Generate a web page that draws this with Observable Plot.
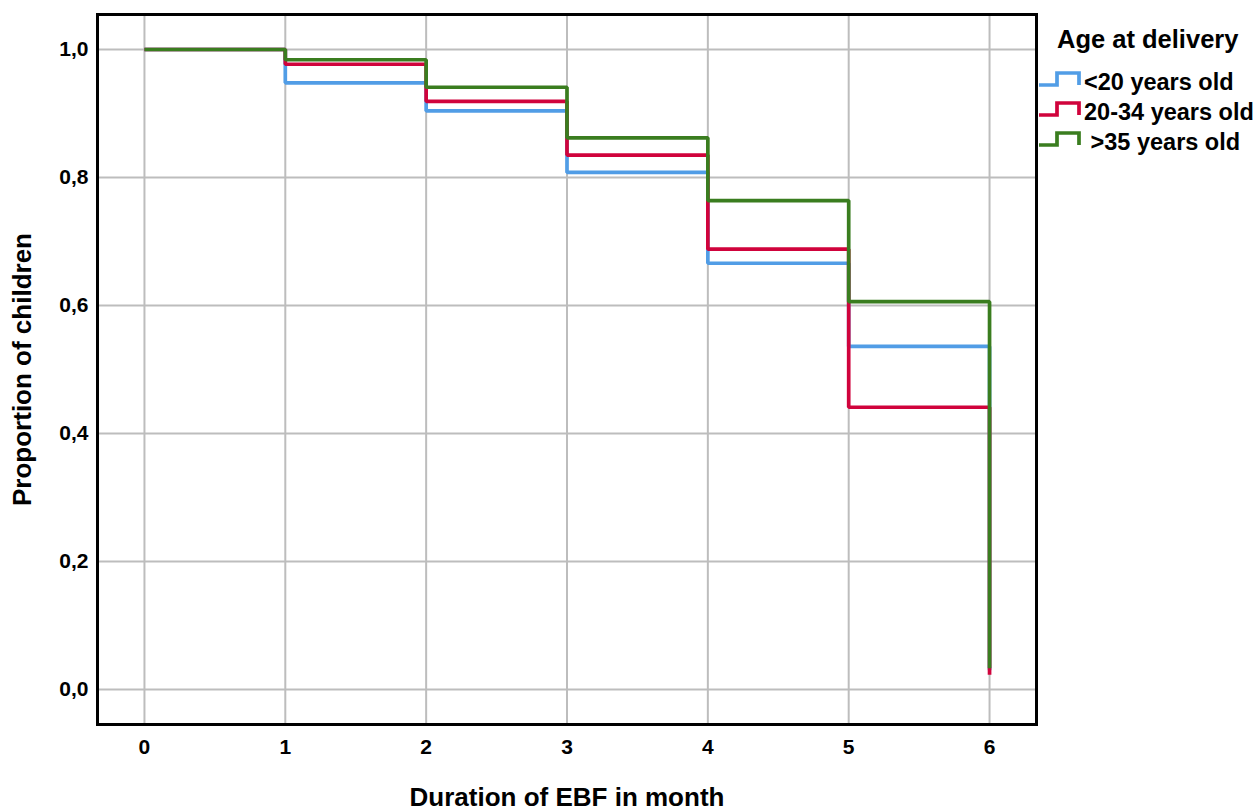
<!DOCTYPE html>
<html>
<head>
<meta charset="utf-8">
<script src="https://cdn.jsdelivr.net/npm/d3@7"></script>
<script src="https://cdn.jsdelivr.net/npm/@observablehq/plot@0.6"></script>
<style>
  html, body { margin: 0; padding: 0; background: #fff; }
  #wrap { position: relative; width: 1259px; height: 810px; font-family: "Liberation Sans", Arial, sans-serif; }
  #legend { position: absolute; left: 0; top: 0; pointer-events: none; }
</style>
</head>
<body>
<div id="wrap"></div>
<script>
// ---- data ----
const months = [0, 1, 2, 3, 4, 5, 6];
const groups = ["<20 years old", "20-34 years old", ">35 years old"];
const under20 = [1.0, 0.948, 0.904, 0.808, 0.666, 0.536, 0.03];
const age20to34 = [1.0, 0.977, 0.919, 0.835, 0.688, 0.441, 0.023];
const over35 = [1.0, 0.984, 0.941, 0.862, 0.764, 0.606, 0.033];
const colors = ["#519de6", "#d0033c", "#3a7d1f"];
const xTicks = [0, 1, 2, 3, 4, 5, 6];
const yTicks = [0, 0.2, 0.4, 0.6, 0.8, 1.0];
const legendTitle = "Age at delivery";
const legendLabels = ["<20 years old", "20-34 years old", " >35 years old"];

const seriesValues = [under20, age20to34, over35];
const rows = [];
groups.forEach((g, gi) => months.forEach((m, i) => rows.push({group: g, month: m, p: seriesValues[gi][i]})));

const font = '"Liberation Sans", Arial, sans-serif';
const W = 1259, H = 810;

const chart = Plot.plot({
  width: W, height: H,
  marginLeft: 97, marginRight: 223, marginTop: 14, marginBottom: 86,
  style: {fontFamily: font, background: "#fff", overflow: "visible"},
  x: {domain: [-1/3, 19/3], ticks: xTicks, label: null},
  y: {domain: [-0.0547, 1.0547], ticks: yTicks, label: null},
  color: {domain: groups, range: colors},
  marks: [
    Plot.gridX(xTicks, {stroke: "#bdbdbd", strokeOpacity: 1, strokeWidth: 2}),
    Plot.gridY(yTicks, {stroke: "#bdbdbd", strokeOpacity: 1, strokeWidth: 2}),
    Plot.axisX(xTicks, {tickSize: 0, tickPadding: 15, fontSize: 21, fontWeight: "bold", fill: "#000", label: null,
      tickFormat: d => String(d)}),
    Plot.axisY(yTicks, {tickSize: 0, tickPadding: 9, fontSize: 21, fontWeight: "bold", fill: "#000", label: null,
      tickFormat: d => d.toFixed(1).replace(".", ",")}),
    Plot.line(rows, {x: "month", y: "p", z: "group", stroke: "group", curve: "step-after", strokeWidth: 3.7, strokeLinejoin: "miter", strokeLinecap: "butt"}),
    Plot.frame({stroke: "#000", strokeWidth: 3}),
    Plot.text(["Duration of EBF in month"], {frameAnchor: "bottom", dy: 81, fontSize: 26, fontWeight: "bold", fill: "#000", textAnchor: "middle"}),
    Plot.text(["Proportion of children"], {frameAnchor: "left", dx: -75, rotate: -90, fontSize: 26, fontWeight: "bold", fill: "#000", textAnchor: "middle"})
  ]
});
document.getElementById("wrap").appendChild(chart);

// ---- legend (outside the plot frame, top right) ----
const ns = "http://www.w3.org/2000/svg";
const lg = document.createElementNS(ns, "svg");
lg.setAttribute("id", "legend");
lg.setAttribute("width", W);
lg.setAttribute("height", H);
const t = document.createElementNS(ns, "text");
t.setAttribute("x", 1057); t.setAttribute("y", 48);
t.setAttribute("font-family", font); t.setAttribute("font-size", 25.5); t.setAttribute("font-weight", "bold");
t.textContent = legendTitle;
lg.appendChild(t);
legendLabels.forEach((lab, i) => {
  const yb = 85 + i * 30, yt = yb - 12;
  const p = document.createElementNS(ns, "path");
  p.setAttribute("d", `M1039,${yb}H1057V${yt}H1079V${yb}`);
  p.setAttribute("fill", "none"); p.setAttribute("stroke", colors[i]); p.setAttribute("stroke-width", 3.7);
  lg.appendChild(p);
  const tx = document.createElementNS(ns, "text");
  tx.setAttribute("x", 1084); tx.setAttribute("y", yb + 5);
  tx.setAttribute("font-family", font); tx.setAttribute("font-size", 23.5); tx.setAttribute("font-weight", "bold");
  tx.setAttribute("xml:space", "preserve");
  tx.style.whiteSpace = "pre";
  tx.textContent = lab;
  lg.appendChild(tx);
});
document.getElementById("wrap").appendChild(lg);
</script>
</body>
</html>
